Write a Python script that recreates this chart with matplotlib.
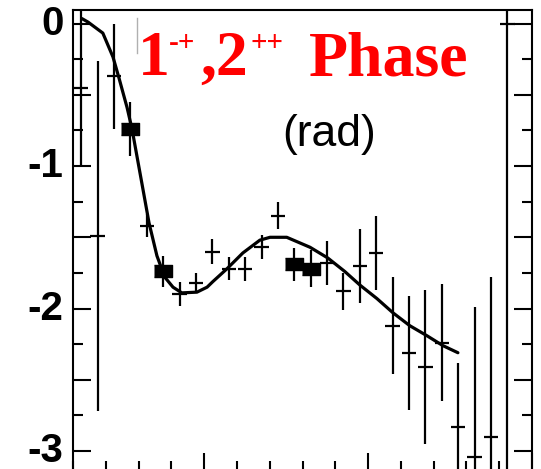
import matplotlib
matplotlib.use("Agg")
import matplotlib.pyplot as plt
from matplotlib.ticker import MultipleLocator, FuncFormatter
from matplotlib.lines import Line2D

# Fase relativa 1-+ / 2++ por intervalo de masa (GeV)
masa = [1.125, 1.175, 1.225, 1.275, 1.325, 1.375, 1.425, 1.475, 1.525,
        1.575, 1.625, 1.675, 1.725, 1.775, 1.825, 1.875, 1.925, 1.975,
        2.025, 2.075, 2.125, 2.175, 2.225, 2.275, 2.325, 2.375, 2.425]
fase = [-0.45, -1.49, -0.37, -0.74, -1.42, -1.74, -1.90, -1.82, -1.60,
        -1.72, -1.72, -1.57, -1.35, -1.69, -1.72, -1.68, -1.88, -1.70,
        -1.61, -2.12, -2.31, -2.41, -2.24, -2.83, -3.04, -2.90, 0.0]
error_fase = [0.55, 1.23, 0.37, 0.19, 0.08, 0.11, 0.085, 0.07, 0.09,
              0.08, 0.085, 0.085, 0.095, 0.115, 0.13, 0.155, 0.13, 0.26,
              0.26, 0.34, 0.40, 0.54, 0.41, 0.45, 1.05, 1.12, 3.2]

# Puntos con marcador de caja
masa_caja = [1.275, 1.375, 1.775, 1.825]
fase_caja = [-0.74, -1.74, -1.69, -1.72]

# Curva del ajuste
masa_ajuste = [1.127, 1.146, 1.191, 1.222, 1.240, 1.265, 1.280, 1.295,
               1.310, 1.332, 1.356, 1.380, 1.405, 1.432, 1.478, 1.509,
               1.527, 1.570, 1.618, 1.670, 1.701, 1.752, 1.823, 1.877,
               1.929, 1.975, 2.027, 2.076, 2.127, 2.179, 2.228, 2.274]
fase_ajuste = [0.035, 0.01, -0.067, -0.235, -0.38, -0.59, -0.74, -0.93,
               -1.12, -1.40, -1.63, -1.78, -1.85, -1.89, -1.885, -1.85,
               -1.81, -1.72, -1.61, -1.52, -1.50, -1.50, -1.57, -1.645,
               -1.74, -1.835, -1.93, -2.03, -2.12, -2.19, -2.26, -2.31]

plt.rcParams["axes.unicode_minus"] = False

W, H = 541, 469
fig = plt.figure(figsize=(W / 100, H / 100), dpi=100)
ax = fig.add_axes([73 / W, 1 - 471 / H, (532 - 73) / W, (471 - 10) / H])

ax.errorbar(masa, fase, yerr=error_fase, xerr=0.022, fmt="none",
            ecolor="black", elinewidth=1.6, capsize=0)
caja = [(-1, -0.63), (1, -0.63), (1, 0.63), (-1, 0.63)]
ax.plot(masa_caja, fase_caja, linestyle="none", marker=caja,
        markersize=13.5, color="black")
ax.plot(masa_ajuste, fase_ajuste, color="black", linewidth=2.3,
        solid_capstyle="round")

ax.set_xlim(1.1, 2.5)
ax.set_ylim(-3.14, 0.095)

ax.xaxis.set_major_locator(MultipleLocator(0.5))
ax.xaxis.set_minor_locator(MultipleLocator(0.1))
ax.yaxis.set_major_locator(MultipleLocator(0.5))
ax.yaxis.set_minor_locator(MultipleLocator(0.25))
ax.yaxis.set_major_formatter(FuncFormatter(
    lambda v, p: str(int(round(v))) if abs(v - round(v)) < 1e-6 else ""))

ax.tick_params(axis="both", which="both", direction="in", width=1.5,
               color="black")
ax.tick_params(axis="both", which="major", length=13)
ax.tick_params(axis="both", which="minor", length=7)
ax.tick_params(axis="x", which="both", top=False, labelbottom=False)
ax.tick_params(axis="y", which="both", right=True, pad=7)
for lbl in ax.get_yticklabels():
    lbl.set_fontfamily("Liberation Sans")
    lbl.set_fontweight("bold")
    lbl.set_fontsize(29)
    lbl.set_verticalalignment("center")
for sp in ax.spines.values():
    sp.set_linewidth(1.5)

# Titulo en rojo con superindices
rojo = "#ff0000"
titulo = dict(color=rojo, family="Liberation Serif", weight="bold",
              va="baseline", ha="left")
fig.text(138 / W, 1 - 75 / H, "1", fontsize=46, **titulo)
fig.text(169 / W, 1 - 51 / H, "-+", fontsize=21, **titulo)
fig.text(200 / W, 1 - 75 / H, ",2", fontsize=46, **titulo)
fig.text(250 / W, 1 - 51 / H, "++", fontsize=21, **titulo)
fig.text(309 / W, 1 - 75 / H, "Phase", fontsize=46, **titulo)

fig.text(282 / W, 1 - 146 / H, "(rad)", fontsize=32,
         family="Liberation Sans", color="black", va="baseline", ha="left")

fig.add_artist(Line2D([137 / W, 137 / W], [1 - 18 / H, 1 - 53 / H],
                      color="#b0b0b0", linewidth=1))

fig.savefig("out.png", dpi=100)
